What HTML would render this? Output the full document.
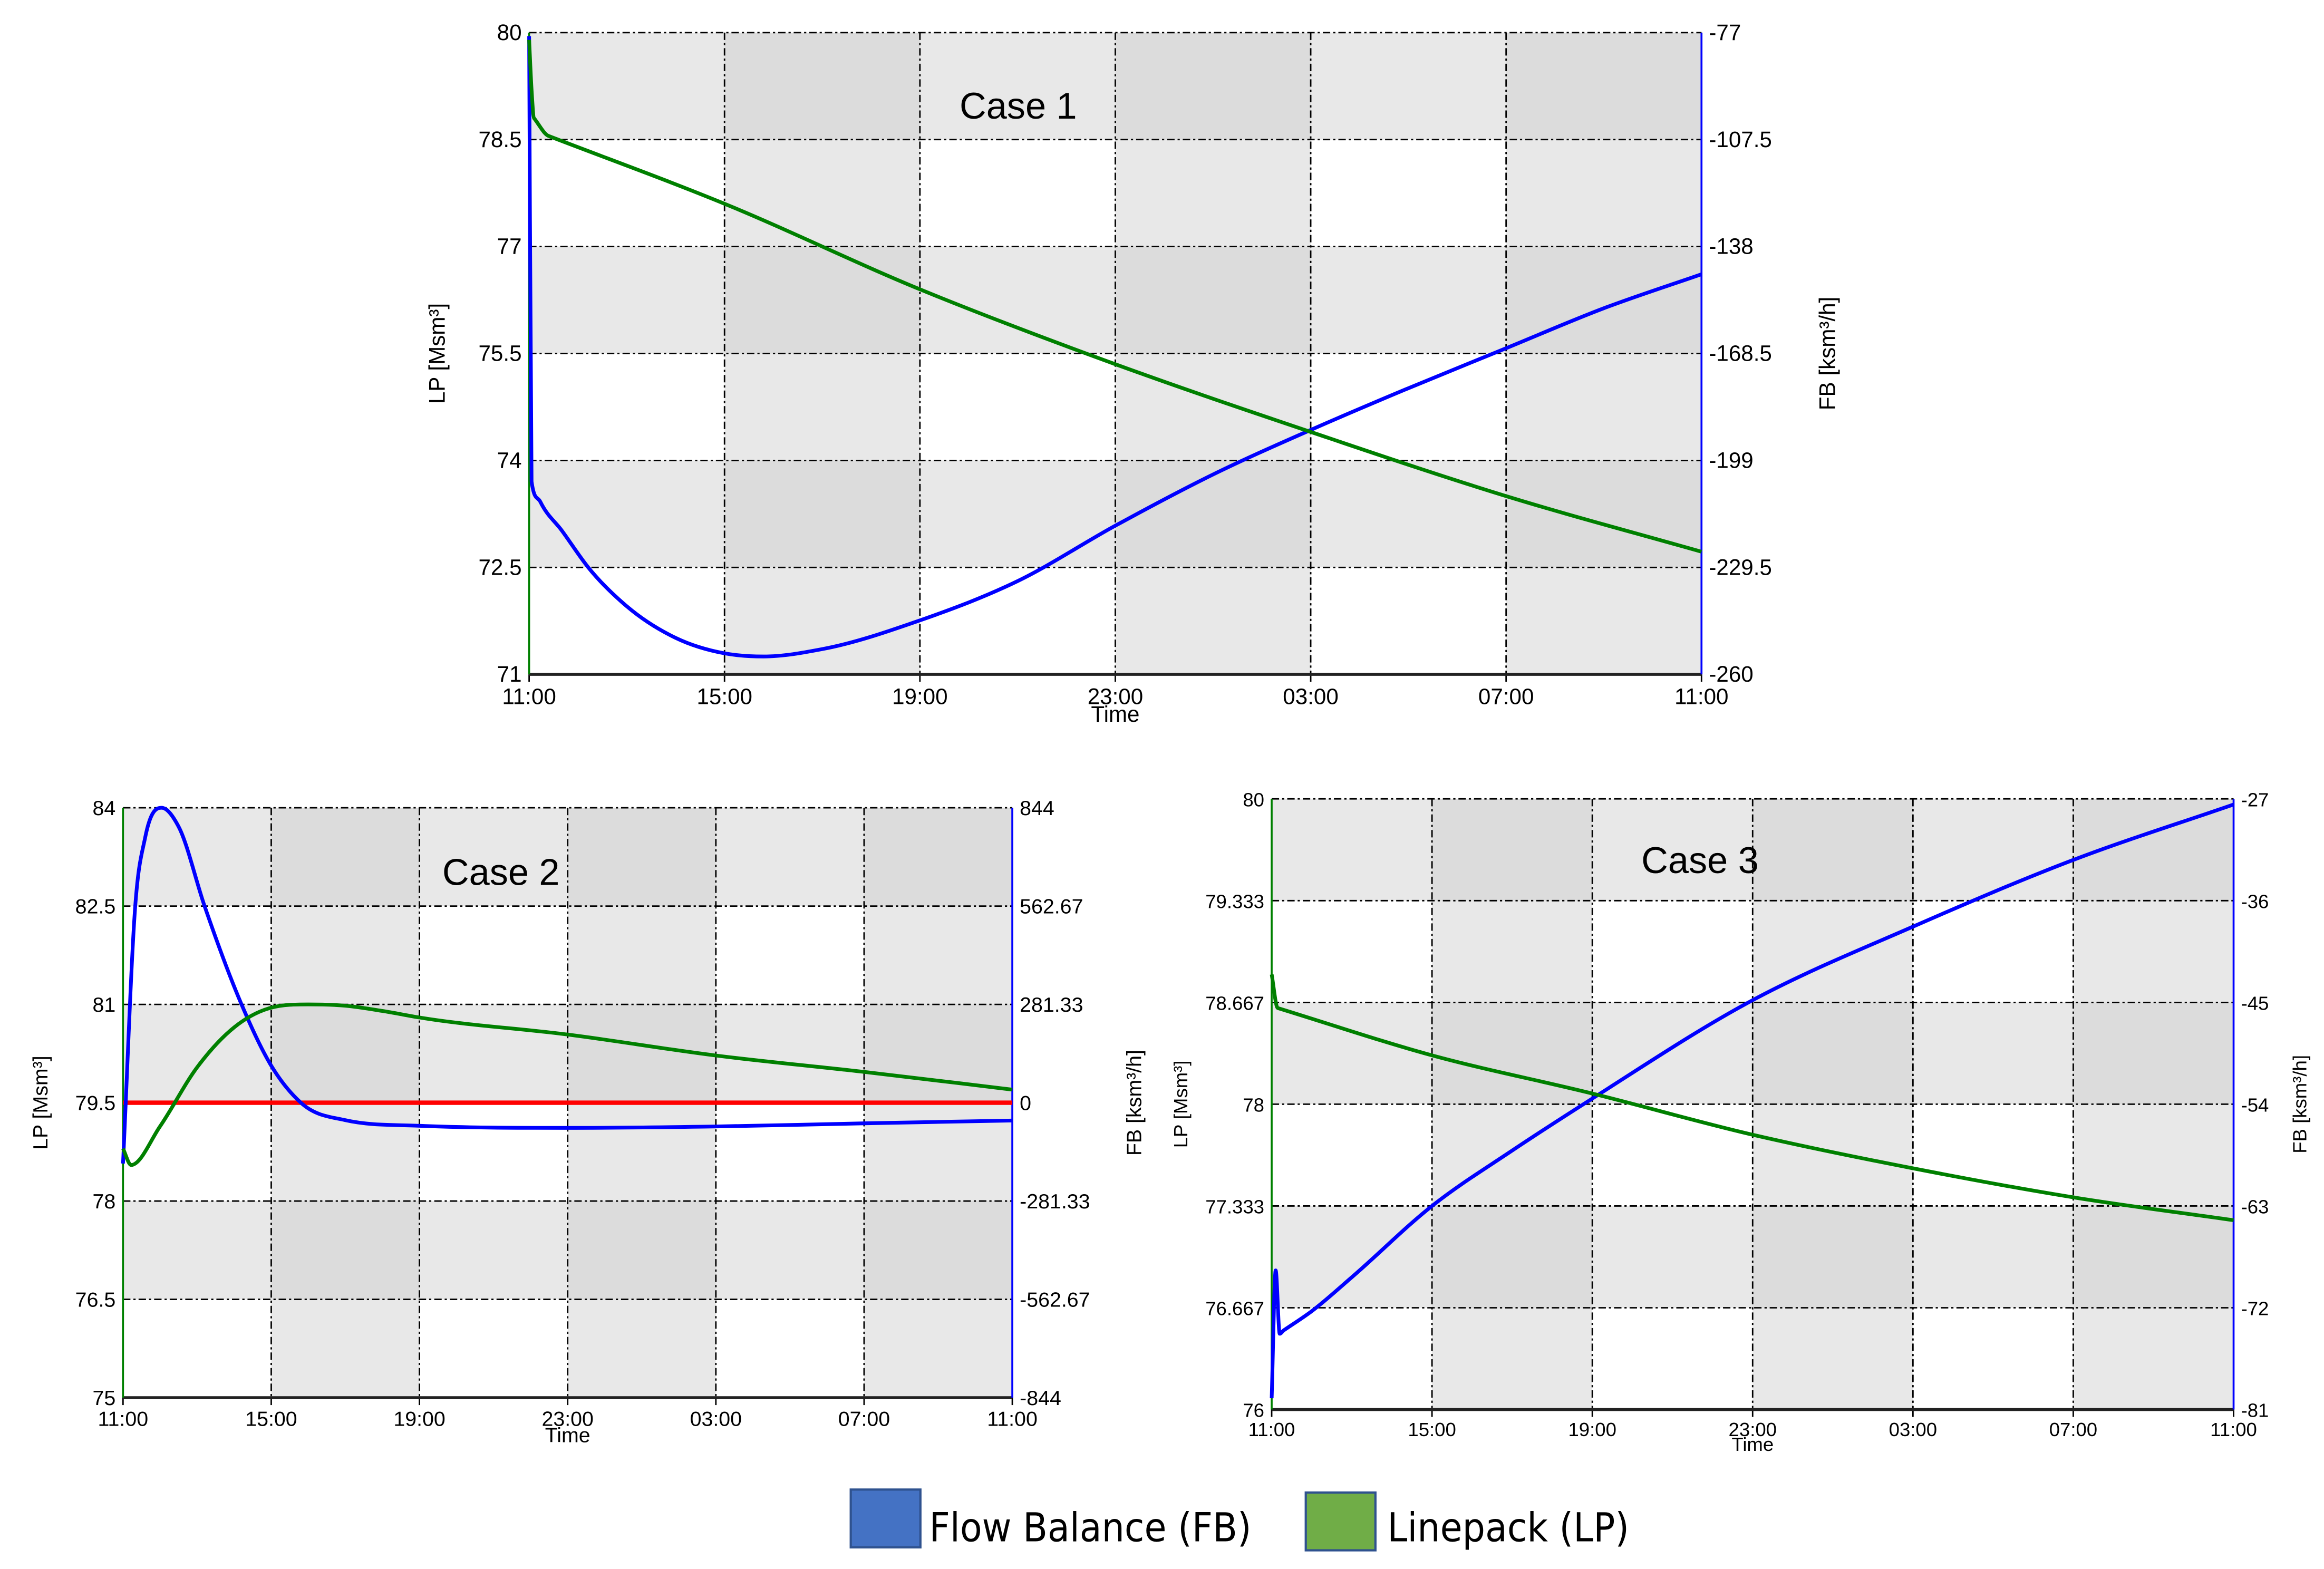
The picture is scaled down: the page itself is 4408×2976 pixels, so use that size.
<!DOCTYPE html>
<html><head><meta charset="utf-8"><style>
html,body{margin:0;padding:0;background:#fff;}
svg{display:block;}
text{font-family:"Liberation Sans",sans-serif;}
</style></head><body>
<svg id="root" width="4408" height="2976" viewBox="0 0 1568 1058.6" preserveAspectRatio="none" xmlns="http://www.w3.org/2000/svg">
<g id="legend">
  <rect x="574" y="1005" width="47" height="39" fill="#4472c4" stroke="#2f528f" stroke-width="1.5"/>
  <text x="627" y="1040" font-size="27" fill="#000" style="font-family:'DejaVu Sans Condensed','Liberation Sans Narrow','Liberation Sans',sans-serif">Flow Balance (FB)</text>
  <rect x="881" y="1007" width="47" height="39" fill="#70ad47" stroke="#2f528f" stroke-width="1.5"/>
  <text x="936" y="1040" font-size="27" fill="#000" style="font-family:'DejaVu Sans Condensed','Liberation Sans Narrow','Liberation Sans',sans-serif">Linepack (LP)</text>
</g>
</svg>
<script>
const xTickLabels = ["11:00","15:00","19:00","23:00","03:00","07:00","11:00"];

// Case 1
const c1LpTicks = ["80","78.5","77","75.5","74","72.5","71"];
const c1FbTicks = ["-77","-107.5","-138","-168.5","-199","-229.5","-260"];
const c1Time = [0,0.05,0.1,0.4,4,8,12,16,20,24];
const c1Lp   = [79.9,79.2,78.8,78.55,77.6,76.4,75.35,74.4,73.5,72.72];
const c1FbTime = [0,0.05,0.23,0.67,1.21,2,3,4,4.8,6,8,10,12,14,16,18,20,22,24];
const c1Fb     = [-78,-205,-210.8,-219,-229.5,-240.6,-249.6,-254,-254.9,-252.8,-244.6,-233.4,-217.6,-203,-190.3,-178.4,-167,-155.6,-145.9];

// Case 2
const c2LpTicks = ["84","82.5","81","79.5","78","76.5","75"];
const c2FbTicks = ["844","562.67","281.33","0","-281.33","-562.67","-844"];
const c2Time = [0,0.22,1,2,3,4,5,6,7,8,12,16,20,24];
const c2Lp   = [78.8,78.55,79.14,80.04,80.65,80.95,81.0,80.98,80.9,80.8,80.54,80.22,79.97,79.7];
const c2FbTime = [0,0.33,0.6,1.04,1.5,2.2,3.2,4,4.8,6,8,12,16,20,24];
const c2Fb     = [-174,563,760,844,790,563,281,106,0,-50,-66,-72,-68,-59,-51];
const c2Limit = [79.5];

// Case 3
const c3LpTicks = ["80","79.333","78.667","78","77.333","76.667","76"];
const c3FbTicks = ["-27","-36","-45","-54","-63","-72","-81"];
const c3Time = [0,0.15,4,8,12,16,20,24];
const c3Lp   = [78.85,78.63,78.32,78.07,77.8,77.58,77.39,77.24];
const c3FbTime = [0,0.1,0.2,0.3,1,2,4,6,8,12,16,20,24];
const c3Fb     = [-80,-68.7,-74.3,-74,-72.3,-69.3,-63.0,-58.1,-53.5,-44.8,-38.3,-32.4,-27.5];

const NS = "http://www.w3.org/2000/svg";
const root = document.getElementById('root');
function mk(tag, attrs, parent){const e=document.createElementNS(NS,tag);for(const k in attrs)e.setAttribute(k,attrs[k]);(parent||root).appendChild(e);return e;}

function smoothPath(xs, ys){
  const n=xs.length;
  if(n<3) return xs.map((x,i)=>(i?'L':'M')+x+','+ys[i]).join(' ');
  const h=[],d=[],m=new Array(n);
  for(let i=0;i<n-1;i++){h.push(xs[i+1]-xs[i]);d.push((ys[i+1]-ys[i])/h[i]);}
  m[0]=d[0]; m[n-1]=d[n-2];
  for(let i=1;i<n-1;i++){
    const r=h[i]/h[i-1];
    if(r>4) m[i]=d[i];
    else if(r<0.25) m[i]=d[i-1];
    else if(d[i-1]*d[i]<=0) m[i]=0;
    else {
      m[i]=(h[i]*d[i-1]+h[i-1]*d[i])/(h[i-1]+h[i]);
      const lim=3*Math.min(Math.abs(d[i-1]),Math.abs(d[i]));
      if(Math.abs(m[i])>lim) m[i]=Math.sign(m[i])*lim;
    }
  }
  let p='M'+xs[0].toFixed(2)+','+ys[0].toFixed(2);
  for(let i=0;i<n-1;i++){
    const k=h[i]/3;
    p+=` C${(xs[i]+k).toFixed(2)},${(ys[i]+m[i]*k).toFixed(2)} ${(xs[i+1]-k).toFixed(2)},${(ys[i+1]-m[i+1]*k).toFixed(2)} ${xs[i+1].toFixed(2)},${ys[i+1].toFixed(2)}`;
  }
  return p;
}

function chart(o){
  const g = mk('g',{});
  
  
  const W=o.x1-o.x0, H=o.y1-o.y0;
  const nx=xTickLabels.length-1, ny=o.lpTicks.length-1;
  const lpMax=parseFloat(o.lpTicks[0]), lpMin=parseFloat(o.lpTicks[ny]);
  const fbMax=parseFloat(o.fbTicks[0]), fbMin=parseFloat(o.fbTicks[ny]);
  const sx=t=>o.x0+t/24*W;
  const sy=v=>o.y0+(lpMax-v)/(lpMax-lpMin)*H;
  const sy2=v=>o.y0+(fbMax-v)/(fbMax-fbMin)*H;
  for(let r=0;r<ny;r++)for(let c=0;c<nx;c++){
    const greyRow=(r%2===0), darkCol=(c%2===1);
    let f = greyRow ? (darkCol?'#dcdcdc':'#e8e8e8') : (darkCol?'#e8e8e8':'#ffffff');
    const cell=mk('rect',{x:o.x0+c*W/nx,y:o.y0+r*H/ny,width:W/nx,height:H/ny,fill:f},g);
    
    
  }
  for(let i=0;i<=ny;i++){
    const y=o.y0+i*H/ny;
    if(i<ny){const l=mk('line',{x1:o.x0,x2:o.x1,y1:y,y2:y,stroke:'#000','stroke-width':1,'stroke-dasharray':'5,2,1.5,2'},g);
    
    }
    const t1=mk('text',{x:o.x0-5,y:y+5,'font-size':o.fs,'text-anchor':'end',fill:'#000'},g);t1.textContent=o.lpTicks[i];
    
    
    const t2=mk('text',{x:o.x1+5,y:y+5,'font-size':o.fs,'text-anchor':'start',fill:'#000'},g);t2.textContent=o.fbTicks[i];
    
    
  }
  for(let i=0;i<=nx;i++){
    const x=o.x0+i*W/nx;
    if(i>0&&i<nx){const l=mk('line',{x1:x,x2:x,y1:o.y0,y2:o.y1,stroke:'#000','stroke-width':1,'stroke-dasharray':'5,2,1.5,2'},g);
    
    }
    mk('line',{x1:x,x2:x,y1:o.y1,y2:o.y1+5,stroke:'#000','stroke-width':1},g);
    const t=mk('text',{x:x,y:o.y1+o.fs+5,'font-size':o.fs,'text-anchor':'middle',fill:'#000'},g);t.textContent=xTickLabels[i];
    
    
  }
  const tt=mk('text',{x:(o.x0+o.x1)/2,y:o.y1+2*o.fs+2,'font-size':o.fs,'text-anchor':'middle',fill:'#000'},g);tt.textContent='Time';
  
  
  const ax=mk('line',{x1:o.x0,x2:o.x1,y1:o.y1,y2:o.y1,stroke:'#222','stroke-width':2},g);
  
  
  const al=mk('line',{x1:o.x0,x2:o.x0,y1:o.y0,y2:o.y1,stroke:'#008000','stroke-width':1.3},g);
  
  
  const ar=mk('line',{x1:o.x1,x2:o.x1,y1:o.y0,y2:o.y1,stroke:'#0000ff','stroke-width':1.3},g);
  
  
  const cy=(o.y0+o.y1)/2;
  const la=mk('text',{x:o.lpLabelX,y:cy,'font-size':o.fs,'text-anchor':'middle',fill:'#000',transform:`rotate(-90 ${o.lpLabelX} ${cy})`},g);
  la.textContent='LP [Msm³]';
  
  
  const fa=mk('text',{x:o.fbLabelX,y:cy,'font-size':o.fs,'text-anchor':'middle',fill:'#000',transform:`rotate(-90 ${o.fbLabelX} ${cy})`},g);
  fa.textContent='FB [ksm³/h]';
  
  
  if(o.limit){
    o.limit.forEach(v=>{const r=mk('line',{x1:o.x0,x2:o.x1,y1:sy(v),y2:sy(v),stroke:'#ff0000','stroke-width':3},g);
    
    });
  }
  const pf=mk('path',{d:smoothPath(o.fbT.map(sx),o.fb.map(sy2)),fill:'none',stroke:'#0000ff','stroke-width':2.5,'stroke-linejoin':'round'},g);
  
  
  const pl=mk('path',{d:smoothPath(o.lpT.map(sx),o.lp.map(sy)),fill:'none',stroke:'#008000','stroke-width':2.5,'stroke-linejoin':'round'},g);
  
  
  const ti=mk('text',{x:o.titleX,y:o.titleY,'font-size':25,'text-anchor':'middle',fill:'#000'},g);
  ti.textContent=o.title;
  
  
}

chart({name:'case-1-chart',title:'Case 1',titleX:687,titleY:80,x0:357,x1:1148,y0:22,y1:455,fs:15,
  lpTicks:c1LpTicks,fbTicks:c1FbTicks,lpT:c1Time,lp:c1Lp,fbT:c1FbTime,fb:c1Fb,lpLabelX:300,fbLabelX:1238});
chart({name:'case-2-chart',title:'Case 2',titleX:338,titleY:597,x0:83,x1:683,y0:545,y1:943,fs:14,
  lpTicks:c2LpTicks,fbTicks:c2FbTicks,lpT:c2Time,lp:c2Lp,fbT:c2FbTime,fb:c2Fb,limit:c2Limit,lpLabelX:32,fbLabelX:770});
chart({name:'case-3-chart',title:'Case 3',titleX:1147,titleY:589,x0:858,x1:1507,y0:539,y1:951,fs:13,
  lpTicks:c3LpTicks,fbTicks:c3FbTicks,lpT:c3Time,lp:c3Lp,fbT:c3FbTime,fb:c3Fb,limit:null,lpLabelX:801,fbLabelX:1556});
root.appendChild(document.getElementById('legend'));
</script>
</body></html>
